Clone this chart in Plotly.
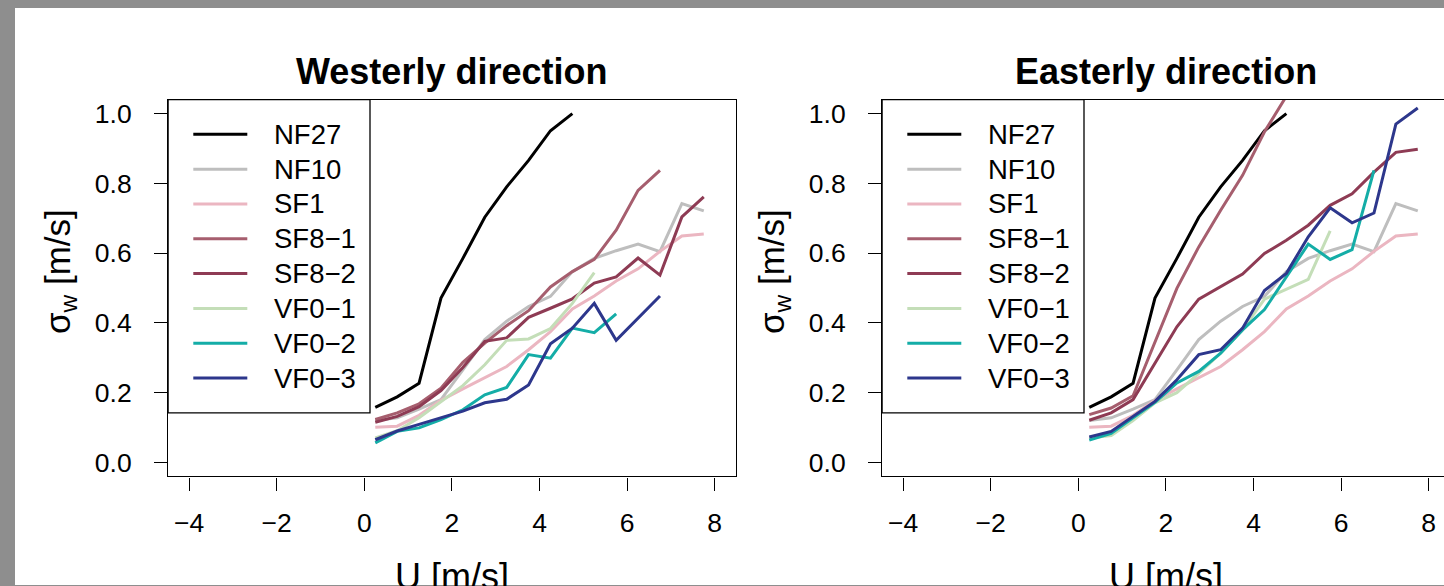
import plotly.graph_objects as go

W, H = 1444, 586

# ---------------- data ----------------
u = [0.25, 0.75, 1.25, 1.75, 2.25, 2.75, 3.25, 3.75, 4.25, 4.75, 5.25, 5.75, 6.25, 6.75, 7.25, 7.75]

series_names = ["NF27", "NF10", "SF1", "SF8\u22121", "SF8\u22122", "VF0\u22121", "VF0\u22122", "VF0\u22123"]
series_colors = ["#000000", "#BEBEBE", "#EBB6C1", "#A65E6E", "#8E3B54", "#C4DEB8", "#14ADA7", "#2D378C"]

# Westerly direction
west_NF27 = [0.158, 0.188, 0.227, 0.471, 0.585, 0.703, 0.790, 0.866, 0.951, 1.000]
west_NF10 = [0.120, 0.128, 0.153, 0.180, 0.265, 0.352, 0.405, 0.447, 0.476, 0.547, 0.585, 0.607, 0.626, 0.604, 0.742, 0.721]
west_SF1 = [0.101, 0.104, 0.135, 0.178, 0.211, 0.242, 0.275, 0.323, 0.375, 0.440, 0.477, 0.520, 0.555, 0.605, 0.649, 0.655]
west_SF8_1 = [0.123, 0.142, 0.168, 0.213, 0.287, 0.342, 0.392, 0.435, 0.503, 0.547, 0.582, 0.666, 0.780, 0.837]
west_SF8_2 = [0.115, 0.132, 0.160, 0.206, 0.272, 0.347, 0.357, 0.416, 0.442, 0.469, 0.514, 0.532, 0.586, 0.537, 0.704, 0.761]
west_VF0_1 = [0.070, 0.091, 0.128, 0.173, 0.220, 0.280, 0.350, 0.354, 0.384, 0.456, 0.544]
west_VF0_2 = [0.056, 0.089, 0.099, 0.123, 0.151, 0.194, 0.215, 0.309, 0.299, 0.385, 0.372, 0.426]
west_VF0_3 = [0.065, 0.090, 0.109, 0.127, 0.147, 0.171, 0.181, 0.222, 0.340, 0.385, 0.456, 0.350, 0.413, 0.477]

# Easterly direction
east_NF27 = [0.158, 0.188, 0.227, 0.471, 0.585, 0.703, 0.790, 0.866, 0.951, 1.000]
east_NF10 = [0.120, 0.128, 0.153, 0.180, 0.265, 0.352, 0.405, 0.447, 0.476, 0.547, 0.585, 0.607, 0.626, 0.604, 0.742, 0.721]
east_SF1 = [0.101, 0.104, 0.135, 0.178, 0.211, 0.242, 0.275, 0.323, 0.375, 0.440, 0.477, 0.520, 0.555, 0.605, 0.649, 0.655]
east_SF8_1 = [0.137, 0.156, 0.191, 0.345, 0.499, 0.618, 0.723, 0.823, 0.948, 1.050]
east_SF8_2 = [0.121, 0.142, 0.180, 0.285, 0.389, 0.468, 0.504, 0.540, 0.599, 0.637, 0.680, 0.737, 0.770, 0.832, 0.889, 0.898]
east_VF0_1 = [0.070, 0.077, 0.120, 0.171, 0.200, 0.255, 0.313, 0.380, 0.468, 0.497, 0.525, 0.664]
east_VF0_2 = [0.064, 0.083, 0.128, 0.172, 0.228, 0.261, 0.313, 0.380, 0.438, 0.532, 0.626, 0.582, 0.610, 0.837]
east_VF0_3 = [0.073, 0.089, 0.132, 0.175, 0.237, 0.309, 0.323, 0.385, 0.493, 0.542, 0.647, 0.730, 0.687, 0.715, 0.970, 1.016]

west_series = [west_NF27, west_NF10, west_SF1, west_SF8_1, west_SF8_2, west_VF0_1, west_VF0_2, west_VF0_3]
east_series = [east_NF27, east_NF10, east_SF1, east_SF8_1, east_SF8_2, east_VF0_1, east_VF0_2, east_VF0_3]

panel_titles = ["Westerly direction", "Easterly direction"]
x_ticks = [-4, -2, 0, 2, 4, 6, 8]
y_ticks = [0.0, 0.2, 0.4, 0.6, 0.8, 1.0]
y_ticktext = ["0.0", "0.2", "0.4", "0.6", "0.8", "1.0"]
x_label = "U [m/s]"
y_label = "\u03c3<sub>w</sub> [m/s]"

# ---------------- layout helpers (pixel -> paper) ----------------
def px(p):
    return p / W

def py(p):
    return 1 - p / H

FONT = "Liberation Sans, Arial, Helvetica, sans-serif"
PX_PER_U = 43.8
PANEL_SHIFT = 714
LEFT0 = 168.1           # left edge of left plot box (px)
BOX_TOP, BOX_BOT = 99, 477

fig = go.Figure()

for p, data in enumerate([west_series, east_series]):
    xa = "x" if p == 0 else "x2"
    ya = "y" if p == 0 else "y2"
    for name, col, vals in zip(series_names, series_colors, data):
        fig.add_trace(go.Scatter(
            x=u[:len(vals)], y=vals, mode="lines", name=name,
            line=dict(color=col, width=3), xaxis=xa, yaxis=ya,
            showlegend=False, hoverinfo="skip"))

axis_common = dict(
    ticks="outside", ticklen=13, tickwidth=1.3, tickcolor="black",
    showline=True, linecolor="black", linewidth=1.3,
    showgrid=False, zeroline=False,
    tickfont=dict(family=FONT, size=26.5, color="black"),
)

x0_l = LEFT0
x1_l = LEFT0 + 12.96 * PX_PER_U
x0_r = x0_l + PANEL_SHIFT
x1_r = W
range_r = -4.48 + (x1_r - x0_r) / PX_PER_U

fig.update_layout(
    width=W, height=H,
    margin=dict(l=0, r=0, t=0, b=0),
    paper_bgcolor="#8e8e8e", plot_bgcolor="white",
    showlegend=False,
    font=dict(family=FONT, color="black"),
    xaxis=dict(domain=[px(x0_l), px(x1_l)], range=[-4.48, 8.48], tickvals=x_ticks,
               mirror=True, anchor="y", ticklabelstandoff=10, **axis_common),
    yaxis=dict(domain=[py(BOX_BOT), py(BOX_TOP)], range=[-0.04, 1.04], tickvals=y_ticks,
               ticktext=y_ticktext, mirror=True, anchor="x", ticklabelstandoff=17, **axis_common),
    xaxis2=dict(domain=[px(x0_r), px(x1_r)], range=[-4.48, range_r], tickvals=x_ticks,
                mirror=True, anchor="y2", ticklabelstandoff=10, **axis_common),
    yaxis2=dict(domain=[py(BOX_BOT), py(BOX_TOP)], range=[-0.04, 1.04], tickvals=y_ticks,
                ticktext=y_ticktext, mirror=False, anchor="x2", ticklabelstandoff=17, **axis_common),
)

shapes = []
# white page area (grey frame at left and top)
shapes.append(dict(type="rect", xref="paper", yref="paper", x0=px(15), x1=1, y0=0, y1=py(7),
                   fillcolor="white", line=dict(width=0), layer="below"))

annotations = []
for p in range(2):
    off = PANEL_SHIFT * p
    cx = (x0_l + x1_l) / 2 + off
    # panel title
    annotations.append(dict(text="<b>" + panel_titles[p] + "</b>", x=px(cx), y=py(71),
                            xref="paper", yref="paper", xanchor="center", yanchor="middle",
                            showarrow=False, font=dict(family=FONT, size=36, color="black")))
    # axis titles
    annotations.append(dict(text=x_label, x=px(cx), y=py(577), xref="paper", yref="paper",
                            xanchor="center", yanchor="middle", showarrow=False,
                            font=dict(family=FONT, size=36, color="black")))
    annotations.append(dict(text=y_label, x=px(60 + off), y=py(272), xref="paper", yref="paper",
                            xanchor="center", yanchor="middle", textangle=-90, showarrow=False,
                            font=dict(family=FONT, size=35, color="black")))
    # legend box
    shapes.append(dict(type="rect", xref="paper", yref="paper",
                       x0=px(168.1 + off), x1=px(370 + off), y0=py(413.3), y1=py(99),
                       line=dict(color="black", width=1.3), fillcolor="white", layer="above"))
    for i, (name, col) in enumerate(zip(series_names, series_colors)):
        yy = 133.8 + 34.93 * i
        shapes.append(dict(type="line", xref="paper", yref="paper",
                           x0=px(193.3 + off), x1=px(247.3 + off), y0=py(yy), y1=py(yy),
                           line=dict(color=col, width=3), layer="above"))
        annotations.append(dict(text=name, x=px(272 + off), y=py(yy), xref="paper", yref="paper",
                                xanchor="left", yanchor="middle", showarrow=False,
                                font=dict(family=FONT, size=27.5, color="black")))

fig.update_layout(shapes=shapes, annotations=annotations)

fig.write_html("out.html", config={"displayModeBar": False},
               post_script="document.body.style.margin='0';document.body.style.overflow='hidden';")
